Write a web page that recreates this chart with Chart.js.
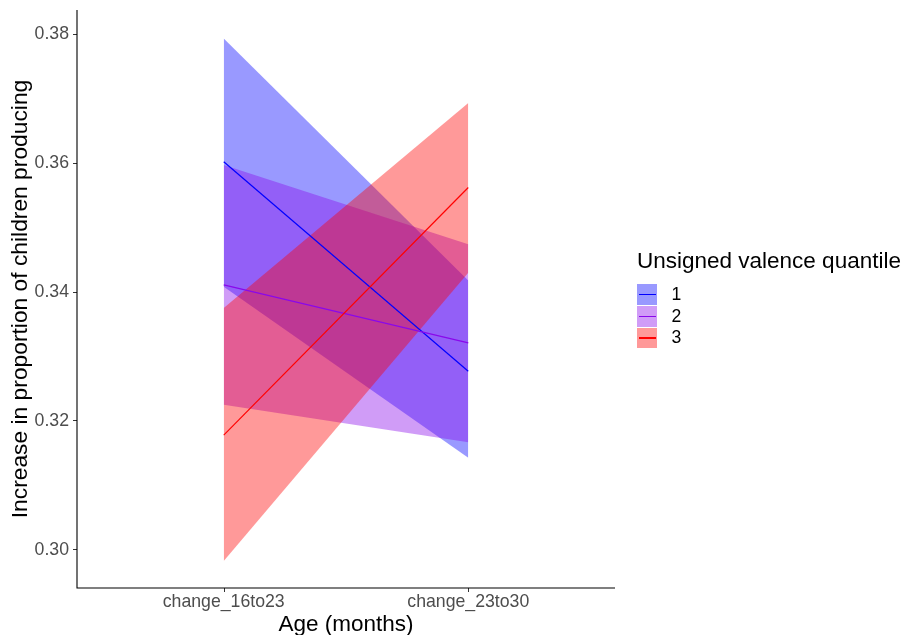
<!DOCTYPE html>
<html>
<head>
<meta charset="utf-8">
<script src="https://cdn.jsdelivr.net/npm/chart.js@4/dist/chart.umd.min.js"></script>
<style>
  html, body { margin: 0; padding: 0; background: #fff; }
  #wrap { position: relative; width: 906px; height: 635px; font-family: "Liberation Sans", Arial, sans-serif; }
  #c { position: absolute; left: 0; top: 0; }
  .lg-title { position: absolute; left: 637px; top: 250px; font-size: 22.5px; line-height: 22px; color: #000; white-space: nowrap; }
  .lg-key { position: absolute; left: 636.5px; width: 21px; height: 21.7px; }
  .lg-fill { position: absolute; left: 0.7px; top: 0.7px; right: 0.7px; bottom: 0.7px; }
  .lg-line { position: absolute; left: 2px; right: 1.5px; top: 10.2px; height: 1.3px; }
  .lg-label { position: absolute; left: 671.5px; font-size: 17.6px; line-height: 21.7px; color: #000; }
</style>
</head>
<body>
<div id="wrap">
  <canvas id="c" width="906" height="635"></canvas>
</div>
<script>
// ---- data ----
const categories = ['change_16to23', 'change_23to30'];
const seriesNames = ['1', '2', '3'];
const fit1 = [0.3602, 0.3277];
const lo1  = [0.3408, 0.3143];
const hi1  = [0.3793, 0.3418];
const fit2 = [0.3411, 0.3321];
const lo2  = [0.3225, 0.3167];
const hi2  = [0.3597, 0.3474];
const fit3 = [0.3178, 0.3562];
const lo3  = [0.2983, 0.3430];
const hi3  = [0.3375, 0.3693];
const yTicks = [0.30, 0.32, 0.34, 0.36, 0.38];

// ---- styles ----
const lineColors = ['#0000FF', '#8A08EB', '#FF0000'];
const fillColors = ['rgba(0,0,255,0.4)', 'rgba(138,8,235,0.4)', 'rgba(255,0,0,0.4)'];

const fits = [fit1, fit2, fit3];
const los = [lo1, lo2, lo3];
const his = [hi1, hi2, hi3];

const pts = arr => categories.map((c, i) => ({ x: i + 1, y: arr[i] }));

const datasets = [];
for (let s = 0; s < 3; s++) {
  datasets.push({
    label: 'hi' + seriesNames[s], data: pts(his[s]), fill: '+1',
    backgroundColor: fillColors[s], borderWidth: 0, borderColor: 'rgba(0,0,0,0)',
    pointRadius: 0, order: 9 - s
  });
  datasets.push({
    label: 'lo' + seriesNames[s], data: pts(los[s]), fill: false,
    borderWidth: 0, borderColor: 'rgba(0,0,0,0)', pointRadius: 0, order: 20
  });
}
for (let s = 0; s < 3; s++) {
  datasets.push({
    label: seriesNames[s], data: pts(fits[s]), fill: false,
    borderColor: lineColors[s], borderWidth: 1.2, pointRadius: 0, order: 3 - s
  });
}

Chart.defaults.font.family = '"Liberation Sans", Arial, sans-serif';

const catTick = v => Math.abs(v - Math.round(v)) < 1e-9 && v >= 1 && v <= categories.length;

// draws the x category tick marks and both axis lines from the scales
const axisMarks = {
  id: 'axisMarks',
  afterDraw(chart) {
    const sx = chart.scales.x, ctx = chart.ctx, ca = chart.chartArea;
    ctx.save();
    ctx.strokeStyle = '#333333';
    ctx.lineWidth = 1;
    sx.ticks.forEach(t => {
      if (!catTick(t.value)) return;
      const px = Math.round(sx.getPixelForValue(t.value)) + 0.5;
      ctx.beginPath();
      ctx.moveTo(px, ca.bottom);
      ctx.lineTo(px, ca.bottom + 4);
      ctx.stroke();
    });
    ctx.strokeStyle = '#000000';
    ctx.lineWidth = 1.1;
    ctx.beginPath();
    ctx.moveTo(ca.left, ca.top);
    ctx.lineTo(ca.left, ca.bottom);
    ctx.lineTo(ca.right, ca.bottom);
    ctx.stroke();
    ctx.restore();
  }
};

new Chart(document.getElementById('c'), {
  type: 'line',
  data: { datasets },
  plugins: [axisMarks],
  options: {
    responsive: false,
    animation: false,
    events: [],
    layout: { padding: { left: 0, right: 291, top: 10, bottom: 0 } },
    plugins: { legend: { display: false }, tooltip: { enabled: false } },
    scales: {
      x: {
        type: 'linear', min: 0.4, max: 2.6,
        grid: { drawOnChartArea: false, drawTicks: true, tickLength: 4, color: 'rgba(0,0,0,0)' },
        border: { display: false },
        afterBuildTicks: s => { s.ticks = categories.map((c, i) => ({ value: i + 1 })); },
        afterFit: s => { s.height = 47; s.paddingLeft = 0; s.paddingRight = 0; },
        ticks: {
          autoSkip: false, maxRotation: 0, padding: 1.1, color: '#4D4D4D',
          font: { size: 17.7, lineHeight: 1 },
          callback: v => catTick(v) ? categories[Math.round(v) - 1] : ''
        },
        title: { display: true, text: 'Age (months)', color: '#000000', font: { size: 22.5, lineHeight: 1 }, padding: { top: 0, bottom: -0.8 } }
      },
      y: {
        type: 'linear', min: 0.29410, max: 0.38373,
        grid: { drawOnChartArea: false, drawTicks: true, tickLength: 4, color: '#333333', lineWidth: 1 },
        border: { display: false },
        afterBuildTicks: s => { s.ticks = yTicks.map(v => ({ value: v })); },
        afterFit: s => { s.width = 77; s.paddingTop = 0; s.paddingBottom = 0; },
        ticks: {
          padding: 4, color: '#4D4D4D', font: { size: 17.7, lineHeight: 1 },
          callback: v => v.toFixed(2)
        },
        title: { display: true, text: 'Increase in proportion of children producing', color: '#000000', font: { size: 22.8, lineHeight: 1 }, padding: { top: 9.8, bottom: 0 } }
      }
    }
  }
});

// ---- legend (HTML text) ----
const wrap = document.getElementById('wrap');
const t = document.createElement('div');
t.className = 'lg-title';
t.textContent = 'Unsigned valence quantile';
wrap.appendChild(t);
const keyTop0 = 283.8, keyStep = 21.7;
seriesNames.forEach((name, s) => {
  const top = keyTop0 + s * keyStep;
  const k = document.createElement('div');
  k.className = 'lg-key';
  k.style.top = top + 'px';
  const f = document.createElement('div');
  f.className = 'lg-fill';
  f.style.background = fillColors[s];
  const l = document.createElement('div');
  l.className = 'lg-line';
  l.style.background = lineColors[s];
  k.appendChild(f); k.appendChild(l);
  wrap.appendChild(k);
  const lab = document.createElement('div');
  lab.className = 'lg-label';
  lab.style.top = top + 'px';
  lab.textContent = name;
  wrap.appendChild(lab);
});
</script>
</body>
</html>
